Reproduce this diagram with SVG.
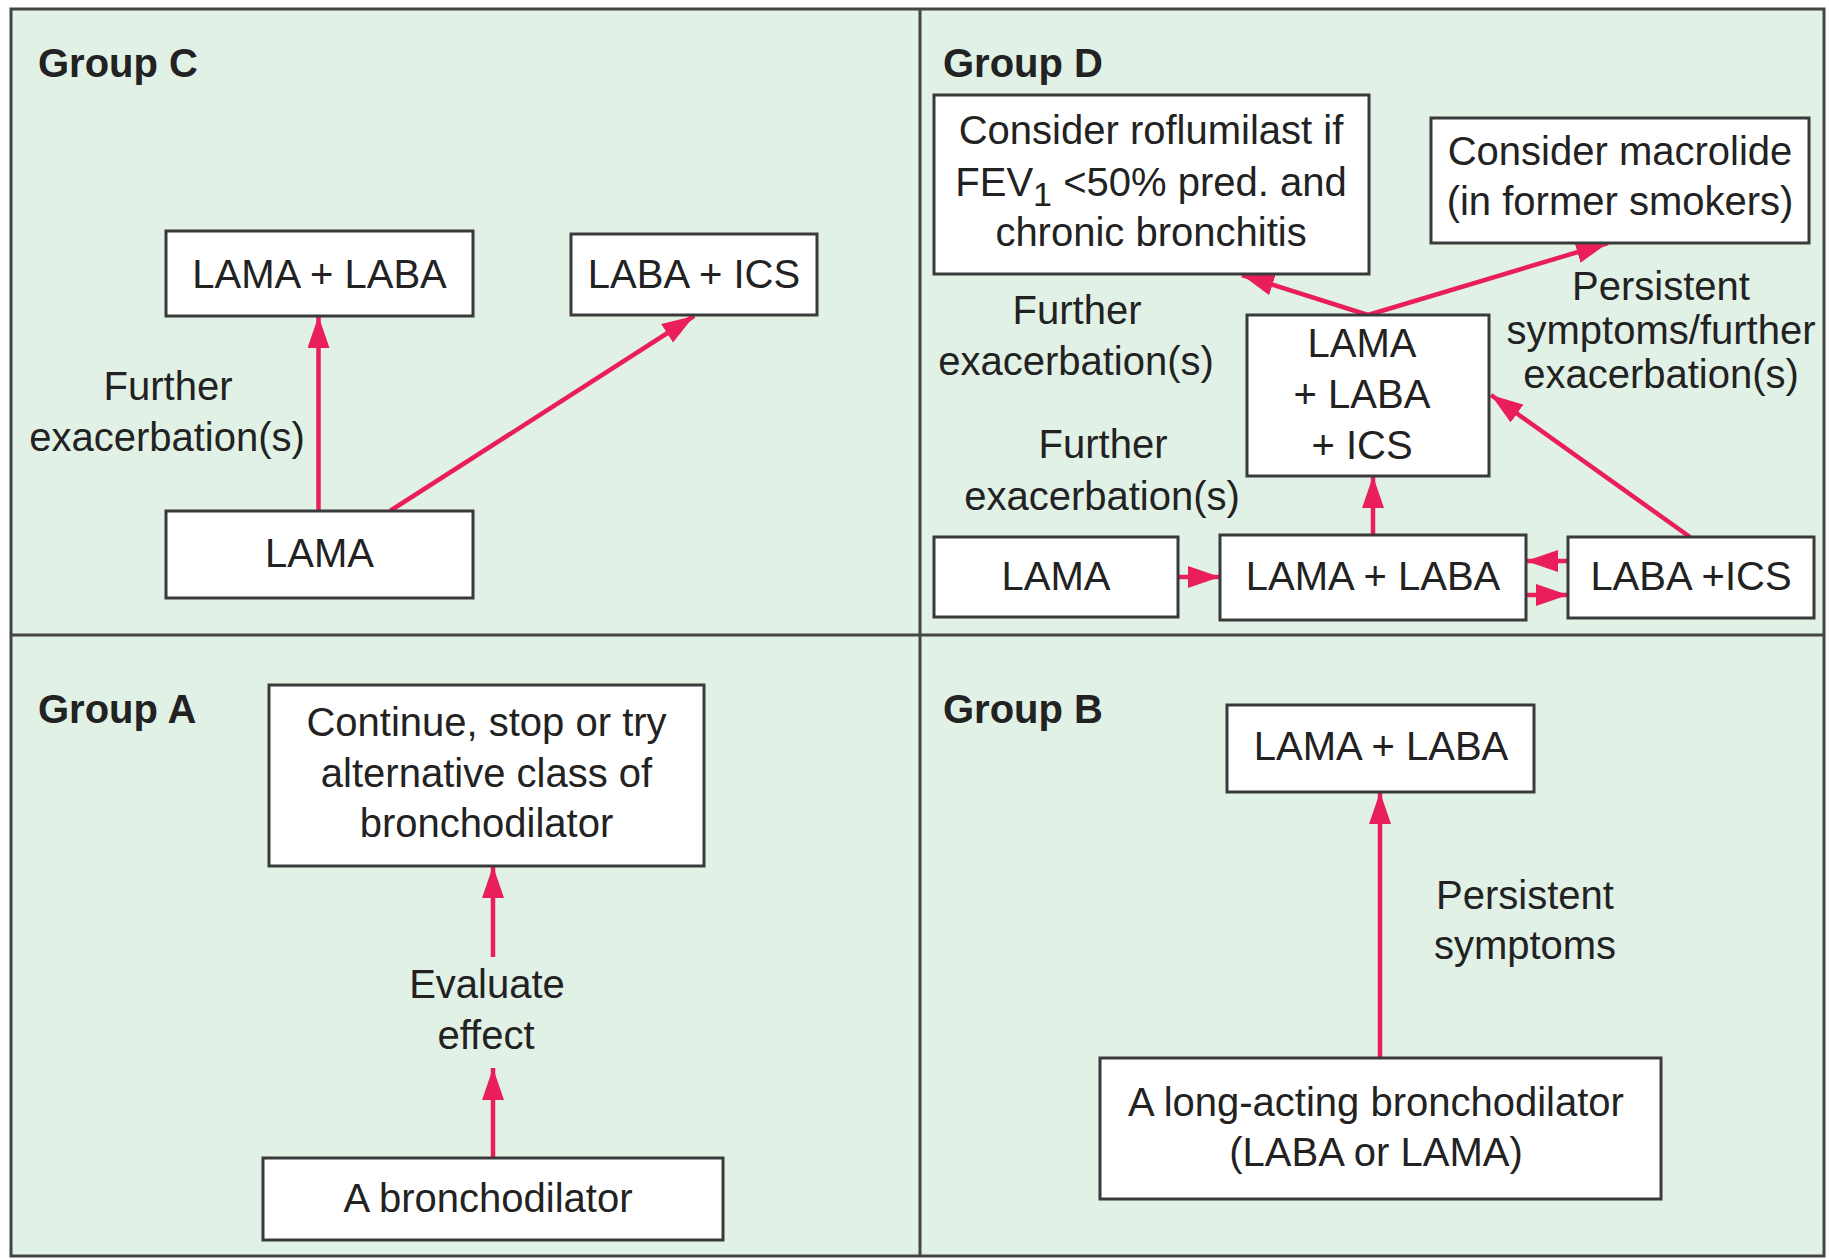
<svg xmlns="http://www.w3.org/2000/svg" width="1829" height="1259" viewBox="0 0 1829 1259">
  <style>
    .bg { fill: #e1f1e6; stroke: #444; stroke-width: 3; }
    .div { stroke: #444; stroke-width: 3; }
    .box { fill: #ffffff; stroke: #3a3a3a; stroke-width: 3; }
    .t { font-family: "Liberation Sans", Arial, sans-serif; font-size: 40px; fill: #222; text-anchor: middle; }
    .g { font-family: "Liberation Sans", Arial, sans-serif; font-size: 40px; font-weight: bold; fill: #222; }
    .c { stroke: #e91e5a; stroke-width: 4.5; fill: none; marker-end: url(#ah); }
  </style>
  <defs>
    <marker id="ah" markerUnits="userSpaceOnUse" markerWidth="32" markerHeight="22" refX="32" refY="11" orient="auto">
      <path d="M0,0 L32,11 L0,22 Z" fill="#e91e5a"/>
    </marker>
  </defs>

  <g id="frame">
    <rect class="bg" x="11" y="9" width="1813" height="1247"/>
    <line class="div" x1="920" y1="9" x2="920" y2="1256"/>
    <line class="div" x1="11" y1="635" x2="1824" y2="635"/>
  </g>

  <g id="connectors">
    <!-- Group C -->
    <line class="c" x1="318.5" y1="511" x2="318.5" y2="316"/>
    <line class="c" x1="390" y1="511" x2="694" y2="316"/>
    <!-- Group D -->
    <line class="c" x1="1178" y1="577" x2="1220" y2="577"/>
    <line class="c" x1="1568" y1="561" x2="1526" y2="561"/>
    <line class="c" x1="1526" y1="595" x2="1568" y2="595"/>
    <line class="c" x1="1373" y1="535" x2="1373" y2="476"/>
    <line class="c" x1="1690" y1="537" x2="1491" y2="395"/>
    <line class="c" x1="1368" y1="315" x2="1242" y2="275"/>
    <line class="c" x1="1368" y1="315" x2="1608" y2="243"/>
    <!-- Group A -->
    <line class="c" x1="493" y1="957" x2="493" y2="866"/>
    <line class="c" x1="493" y1="1157" x2="493" y2="1068"/>
    <!-- Group B -->
    <line class="c" x1="1380" y1="1058" x2="1380" y2="792"/>
  </g>

  <g id="labels">
    <text class="g" x="38" y="77">Group C</text>
    <text class="g" x="943" y="77">Group D</text>
    <text class="g" x="38" y="723">Group A</text>
    <text class="g" x="943" y="723">Group B</text>
    <text class="t" x="168" y="400">Further</text>
    <text class="t" x="167" y="451">exacerbation(s)</text>
    <text class="t" x="1077" y="324">Further</text>
    <text class="t" x="1076" y="375">exacerbation(s)</text>
    <text class="t" x="1103" y="458">Further</text>
    <text class="t" x="1102" y="510">exacerbation(s)</text>
    <text class="t" x="1661" y="300">Persistent</text>
    <text class="t" x="1661" y="344">symptoms/further</text>
    <text class="t" x="1661" y="388">exacerbation(s)</text>
    <text class="t" x="487" y="998">Evaluate</text>
    <text class="t" x="486" y="1049">effect</text>
    <text class="t" x="1525" y="909">Persistent</text>
    <text class="t" x="1525" y="959">symptoms</text>
  </g>

  <!-- Group C nodes -->
  <g id="c-lama-laba">
    <rect class="box" x="166" y="231" width="307" height="85"/>
    <text class="t" x="319.5" y="288">LAMA + LABA</text>
  </g>
  <g id="c-laba-ics">
    <rect class="box" x="571" y="234" width="246" height="81"/>
    <text class="t" x="694" y="288">LABA + ICS</text>
  </g>
  <g id="c-lama">
    <rect class="box" x="166" y="511" width="307" height="87"/>
    <text class="t" x="319.5" y="567">LAMA</text>
  </g>

  <!-- Group D nodes -->
  <g id="d-roflumilast">
    <rect class="box" x="934" y="95" width="435" height="179"/>
    <text class="t" x="1151" y="144">Consider roflumilast if</text>
    <text class="t" x="1151" y="196">FEV<tspan dy="10" font-size="34">1</tspan><tspan dy="-10"> &lt;50% pred. and</tspan></text>
    <text class="t" x="1151" y="246">chronic bronchitis</text>
  </g>
  <g id="d-macrolide">
    <rect class="box" x="1431" y="118" width="378" height="125"/>
    <text class="t" x="1620" y="165">Consider macrolide</text>
    <text class="t" x="1620" y="215">(in former smokers)</text>
  </g>
  <g id="d-triple">
    <rect class="box" x="1247" y="315" width="242" height="161"/>
    <text class="t" x="1362" y="357">LAMA</text>
    <text class="t" x="1362" y="408">+ LABA</text>
    <text class="t" x="1362" y="459">+ ICS</text>
  </g>
  <g id="d-lama">
    <rect class="box" x="934" y="537" width="244" height="80"/>
    <text class="t" x="1056" y="590">LAMA</text>
  </g>
  <g id="d-lama-laba">
    <rect class="box" x="1220" y="535" width="306" height="85"/>
    <text class="t" x="1373" y="590">LAMA + LABA</text>
  </g>
  <g id="d-laba-ics">
    <rect class="box" x="1568" y="537" width="246" height="81"/>
    <text class="t" x="1691" y="590">LABA +ICS</text>
  </g>

  <!-- Group A nodes -->
  <g id="a-continue">
    <rect class="box" x="269" y="685" width="435" height="181"/>
    <text class="t" x="486.5" y="736">Continue, stop or try</text>
    <text class="t" x="486.5" y="787">alternative class of</text>
    <text class="t" x="486.5" y="837">bronchodilator</text>
  </g>
  <g id="a-bronchodilator">
    <rect class="box" x="263" y="1158" width="460" height="82"/>
    <text class="t" x="488" y="1212">A bronchodilator</text>
  </g>

  <!-- Group B nodes -->
  <g id="b-lama-laba">
    <rect class="box" x="1227" y="705" width="307" height="87"/>
    <text class="t" x="1381" y="760">LAMA + LABA</text>
  </g>
  <g id="b-long-acting">
    <rect class="box" x="1100" y="1058" width="561" height="141"/>
    <text class="t" x="1376" y="1116">A long-acting bronchodilator</text>
    <text class="t" x="1376" y="1166">(LABA or LAMA)</text>
  </g>
</svg>
